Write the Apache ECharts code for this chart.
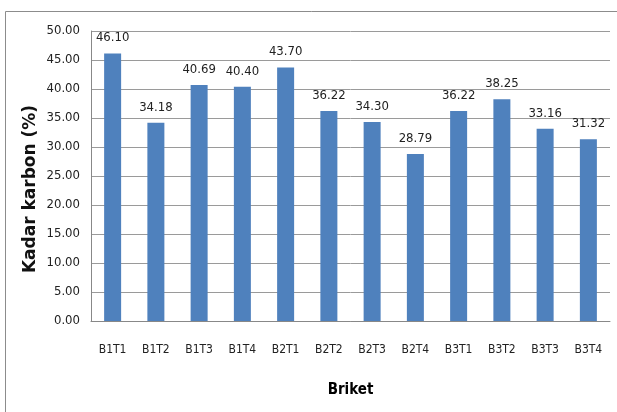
<!DOCTYPE html>
<html>
<head>
<meta charset="utf-8">
<script src="https://cdn.jsdelivr.net/npm/echarts@6/dist/echarts.min.js"></script>
<style>
  html, body { margin: 0; padding: 0; background: #fff; }
  #chart { width: 617px; height: 412px; }
</style>
</head>
<body>
<div id="chart"></div>
<script>
const categories = ['B1T1', 'B1T2', 'B1T3', 'B1T4', 'B2T1', 'B2T2', 'B2T3', 'B2T4', 'B3T1', 'B3T2', 'B3T3', 'B3T4'];
const kadarKarbon = [46.10, 34.18, 40.69, 40.40, 43.70, 36.22, 34.30, 28.79, 36.22, 38.25, 33.16, 31.32];
const yTicks = { min: 0, max: 50, interval: 5 };
const yTitle = 'Kadar karbon (%)';
const xTitle = 'Briket';

const font = '"DejaVu Sans Condensed", "Liberation Sans Narrow", sans-serif';
const chart = echarts.init(document.getElementById('chart'));
chart.setOption({
  animation: false,
  graphic: [{
    type: 'polyline',
    shape: { points: [[5.5, 412], [5.5, 11.5], [617, 11.5]] },
    style: { stroke: '#8c8c8c', lineWidth: 1, fill: null }
  }, {
    // vertical axis title, placed a little below the plot centre
    type: 'text',
    x: 31, y: 189,
    rotation: Math.PI / 2,
    style: {
      text: yTitle,
      fontFamily: '"DejaVu Sans", sans-serif',
      fontWeight: 'bold',
      fontSize: 17,
      fill: '#111',
      align: 'center',
      verticalAlign: 'middle'
    }
  }],
  grid: { left: 91, right: 7, top: 31, bottom: 91 },
  xAxis: {
    type: 'category',
    data: categories,
    name: xTitle,
    nameLocation: 'middle',
    nameGap: 62,
    nameTextStyle: { fontFamily: font, fontWeight: 'bold', fontSize: 15, color: '#000' },
    axisLine: { lineStyle: { color: '#888' } },
    axisTick: { show: false },
    axisLabel: { fontFamily: font, fontSize: 12, color: '#222', margin: 23 }
  },
  yAxis: {
    type: 'value',
    min: yTicks.min, max: yTicks.max, interval: yTicks.interval,
    axisLine: { show: true, lineStyle: { color: '#888' } },
    axisTick: { show: false },
    axisLabel: { fontFamily: font, fontSize: 13, color: '#222', margin: 11, formatter: v => v.toFixed(2) },
    splitLine: { lineStyle: { color: '#9a9a9a' } }
  },
  series: [{
    type: 'bar',
    data: kadarKarbon,
    barWidth: 17,
    itemStyle: { color: '#4f81bd' },
    label: {
      show: true,
      position: 'top',
      distance: 9,
      fontFamily: font,
      fontSize: 13,
      color: '#222',
      formatter: p => p.value.toFixed(2)
    }
  }]
});
</script>
</body>
</html>
